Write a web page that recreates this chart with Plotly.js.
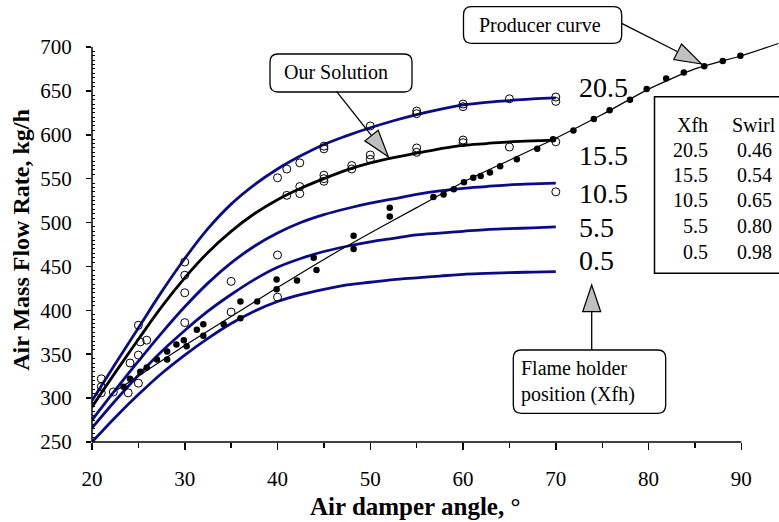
<!DOCTYPE html>
<html><head><meta charset="utf-8">
<script src="https://cdn.plot.ly/plotly-3.0.1.min.js"></script>
<style>html,body{margin:0;padding:0;background:#fff}#chart{width:779px;height:522px}</style>
</head><body><div id="chart"></div>
<script>
// ---- data ----
const modelAngle = [20, 22.5, 25, 27.5, 30, 32.5, 35, 37.5, 40, 42.5, 45, 47.5, 50, 52.5, 55, 57.5, 60, 62.5, 65, 67.5, 70];
const flowXfh20_5 = [297, 339, 380, 421, 459, 493, 521, 543, 561, 576, 589, 599, 608, 616, 623, 629, 634, 637, 639, 641, 642];
const flowXfh15_5 = [290, 329, 367, 404, 437, 466, 490, 510, 526, 539, 550, 560, 568, 574, 579, 584, 588, 590, 592, 593, 594];
const flowXfh10_5 = [275, 309, 342, 374, 404, 431, 454, 473, 488, 500, 509, 516, 522, 527, 532, 536, 539, 541, 543, 544, 545];
const flowXfh5_5  = [266, 297, 326, 353, 377, 399, 418, 435, 449, 459, 467, 473, 478, 482, 486, 488, 490, 492, 493, 494, 495];
const flowXfh0_5  = [250, 278, 304, 328, 349, 368, 385, 399, 410, 418, 424, 429, 432, 435, 437, 439, 441, 442, 443, 443.5, 444];

const producerAngle = [22.5, 25, 30, 35, 40, 45, 50, 55, 60, 65, 70, 75, 80, 85, 90, 94];
const producerFlow  = [308, 325, 360, 393, 426, 458, 488, 517, 546, 571, 596, 623, 652, 675, 690, 704];

const filledAngle = [23.4, 24.1, 25.2, 25.9, 27, 28.1, 28.1, 29.1, 29.9, 30.2, 31.3, 32, 32, 34.2, 36, 36, 37.8, 39.9, 39.9, 42.1, 43.9, 44.2, 48.2, 48.2, 52.1, 52.1, 56.8, 57.9, 59, 60.1, 61.1, 61.9, 62.9, 64, 65.8, 68, 69.7, 71.9, 74.1, 75.8, 78, 79.8, 81.9, 83.8, 86, 88, 89.9];
const filledFlow  = [313, 322, 330, 335, 344, 353, 344, 361, 366, 359, 378, 384, 371, 384, 410, 391, 410, 435, 424, 434, 460, 446, 485, 470, 517, 507, 529, 532, 538, 546, 551, 553, 557, 564, 572, 584, 595, 605, 618, 628, 640, 652, 664, 671, 678, 684, 690];

const openAngle = [21, 21, 21, 22.3, 23.9, 24.1, 25, 25.2, 25.9, 25, 25, 30, 30, 30, 30, 35, 35, 40, 40, 40, 41, 42.4, 45, 45, 41, 42.4, 42.4, 45, 45, 45, 48, 48, 50, 50, 50, 55, 55, 55, 55, 60, 60, 60, 60, 65, 65, 70, 70, 70, 70];
const openFlow  = [322, 313, 306, 307, 306, 340, 383, 364, 366, 349, 317, 455, 440, 420, 386, 433, 398, 463, 415, 551, 561, 568, 584, 587, 531, 541, 533, 554, 550, 547, 565, 561, 577, 572, 610, 627, 624, 585, 580, 635, 632, 594, 591, 641, 586, 643, 638, 592, 535];

const curveLabels = ['20.5', '15.5', '10.5', '5.5', '0.5'];
const tableXfh   = ['20.5', '15.5', '10.5', '5.5', '0.5'];
const tableSwirl = ['0.46', '0.54', '0.65', '0.80', '0.98'];
const xTickVals = [20, 30, 40, 50, 60, 70, 80, 90];
const yTickVals = [250, 300, 350, 400, 450, 500, 550, 600, 650, 700];

// ---- geometry ----
const W = 779, H = 522, L = 92, R = 0, T = 38, B = 80;
const plotW = W - L - R, plotH = H - T - B;
const xPerUnit = 9.276, yPerUnit = 0.8778;
const xMin = 20, xMax = xMin + plotW / xPerUnit;
const yMin = 250, yMax = yMin + plotH / yPerUnit;
const px2x = px => (px - L) / plotW;
const py2y = py => (H - B - py) / plotH;
const FONT = 'Liberation Serif, Times New Roman, serif';
const NAVY = '#0b0b8a';

function rrect(x0, y0, x1, y1, r) {
  const X0 = px2x(x0), X1 = px2x(x1), YT = py2y(y0), YB = py2y(y1);
  const rx = r / plotW, ry = r / plotH;
  return `M${X0 + rx},${YT} L${X1 - rx},${YT} Q${X1},${YT} ${X1},${YT - ry} L${X1},${YB + ry} Q${X1},${YB} ${X1 - rx},${YB} L${X0 + rx},${YB} Q${X0},${YB} ${X0},${YB + ry} L${X0},${YT - ry} Q${X0},${YT} ${X0 + rx},${YT} Z`;
}
function arrow(sx, sy, tx, ty, hl, hw) {
  const dx = tx - sx, dy = ty - sy, len = Math.hypot(dx, dy);
  const ux = dx / len, uy = dy / len;
  const bx = tx - ux * hl, by = ty - uy * hl;
  const p1x = bx - uy * hw, p1y = by + ux * hw, p2x = bx + uy * hw, p2y = by - ux * hw;
  return [
    {type: 'line', xref: 'paper', yref: 'paper', x0: px2x(sx), y0: py2y(sy), x1: px2x(bx), y1: py2y(by), line: {color: '#000', width: 1.3}},
    {type: 'path', xref: 'paper', yref: 'paper', path: `M${px2x(tx)},${py2y(ty)} L${px2x(p1x)},${py2y(p1y)} L${px2x(p2x)},${py2y(p2y)} Z`, fillcolor: '#c0c0c0', line: {color: '#000', width: 1.2}}
  ];
}

const traces = [];
const curves = [flowXfh20_5, flowXfh15_5, flowXfh10_5, flowXfh5_5, flowXfh0_5];
curves.forEach((c, i) => traces.push({
  x: modelAngle, y: c, mode: 'lines', type: 'scatter', name: 'Xfh ' + curveLabels[i],
  line: {color: i === 1 ? '#000' : NAVY, width: 2.8, shape: 'spline', smoothing: 1}, hoverinfo: 'skip'
}));
traces.push({x: producerAngle, y: producerFlow, mode: 'lines', type: 'scatter', name: 'Producer curve',
  line: {color: '#000', width: 1.2, shape: 'spline', smoothing: 0.6}});
traces.push({x: filledAngle, y: filledFlow, mode: 'markers', type: 'scatter', name: 'Producer data',
  marker: {symbol: 'circle', size: 6.5, color: '#000'}, cliponaxis: false});
traces.push({x: openAngle, y: openFlow, mode: 'markers', type: 'scatter', name: 'Measured',
  marker: {symbol: 'circle-open', size: 8, color: '#000', line: {width: 1}}, cliponaxis: false});

const shapes = [
  {type: 'line', xref: 'paper', yref: 'paper', x0: 0, x1: (90 - xMin) / (xMax - xMin), y0: 0, y1: 0, line: {color: '#000', width: 1.5}},
  {type: 'line', xref: 'paper', yref: 'paper', x0: 0, x1: 0, y0: 0, y1: (700 - yMin) / (yMax - yMin), line: {color: '#000', width: 1.5}},
  // legend table box
  {type: 'rect', xref: 'paper', yref: 'paper', x0: px2x(654.5), x1: px2x(800), y0: py2y(96.7), y1: py2y(273.3), line: {color: '#000', width: 1.5}, fillcolor: 'rgba(0,0,0,0)'},
  // callout boxes
  {type: 'path', xref: 'paper', yref: 'paper', path: rrect(270, 54, 412, 92, 8), line: {color: '#000', width: 1.3}, fillcolor: '#fff'},
  {type: 'path', xref: 'paper', yref: 'paper', path: rrect(463.5, 6.7, 621.7, 43.3, 8), line: {color: '#000', width: 1.3}, fillcolor: '#fff'},
  {type: 'path', xref: 'paper', yref: 'paper', path: rrect(513.3, 350, 665.7, 413.3, 8), line: {color: '#000', width: 1.3}, fillcolor: '#fff'},
  ...arrow(336.7, 91.7, 388.3, 156.7, 27, 8.5),
  ...arrow(621.7, 23.3, 701.7, 64, 27, 8.7),
  ...arrow(591.7, 350, 591.7, 285, 26.7, 9)
];

const ann = [];
function txt(text, px, py, size, xanchor, extra) {
  ann.push(Object.assign({text: text, xref: 'paper', yref: 'paper', x: px2x(px), y: py2y(py), xanchor: xanchor || 'center', yanchor: 'middle', showarrow: false, font: {family: FONT, size: size, color: '#000'}}, extra || {}));
}
const labelY = [87, 155, 193, 227, 260];
curveLabels.forEach((t, i) => txt(t, 577, labelY[i], 28, 'left'));
const rowY = [150, 175, 200, 226, 252];
txt('Xfh', 710, 125.5, 20, 'right');
txt('Swirl', 730, 125.5, 20, 'left');
tableXfh.forEach((t, i) => txt(t, 710, rowY[i], 20, 'right'));
tableSwirl.forEach((t, i) => txt(t, 735, rowY[i], 20, 'left'));
txt('Our Solution', 336, 72, 20, 'center');
txt('Producer curve', 540, 25, 20, 'center');
txt('Flame holder<br>position (Xfh)', 519, 381, 20, 'left', {align: 'left'});
txt('<b>Air damper angle, °</b>', 415, 507, 25, 'center');

const layout = {
  width: W, height: H, margin: {l: L, r: R, t: T, b: B, pad: 0},
  paper_bgcolor: '#fff', plot_bgcolor: '#fff', showlegend: false,
  font: {family: FONT, size: 20, color: '#000'},
  xaxis: {range: [xMin, xMax], showgrid: false, zeroline: false, showline: false,
    tickmode: 'array', tickvals: xTickVals, ticks: 'outside', ticklen: 7, tickwidth: 1.5, tickcolor: '#000',
    ticklabelstandoff: 11, tickfont: {family: FONT, size: 21, color: '#000'},
    minor: {tickmode: 'array', tickvals: [25, 35, 45, 55, 65, 75, 85], ticks: 'outside', ticklen: 5, tickwidth: 1.3, tickcolor: '#000', showgrid: false}},
  yaxis: {range: [yMin, yMax], showgrid: false, zeroline: false, showline: false,
    tickmode: 'array', tickvals: yTickVals, ticks: 'outside', ticklen: 5, tickwidth: 1.5, tickcolor: '#000',
    ticklabelstandoff: 10, tickfont: {family: FONT, size: 21, color: '#000'},
    title: {text: '<b>Air Mass Flow Rate, kg/h</b>', font: {family: FONT, size: 24, color: '#000'}, standoff: 3},
    minor: {tickmode: 'array', tickvals: [], ticks: 'inside', ticklen: 3, tickwidth: 1, tickcolor: '#000', showgrid: false}},
  shapes: shapes, annotations: ann
};
const yMinor = [];
for (const v of [255,260,265,270,275,280,285,290,295]) yMinor.push(v);
[300,350,400,450,500,550,600,650].forEach(b => [5,10,15,20,25,30,35,40,45].forEach(d => yMinor.push(b + d)));
layout.yaxis.minor.tickvals = yMinor;

Plotly.newPlot('chart', traces, layout, {displayModeBar: false, staticPlot: true});
</script>
</body></html>
